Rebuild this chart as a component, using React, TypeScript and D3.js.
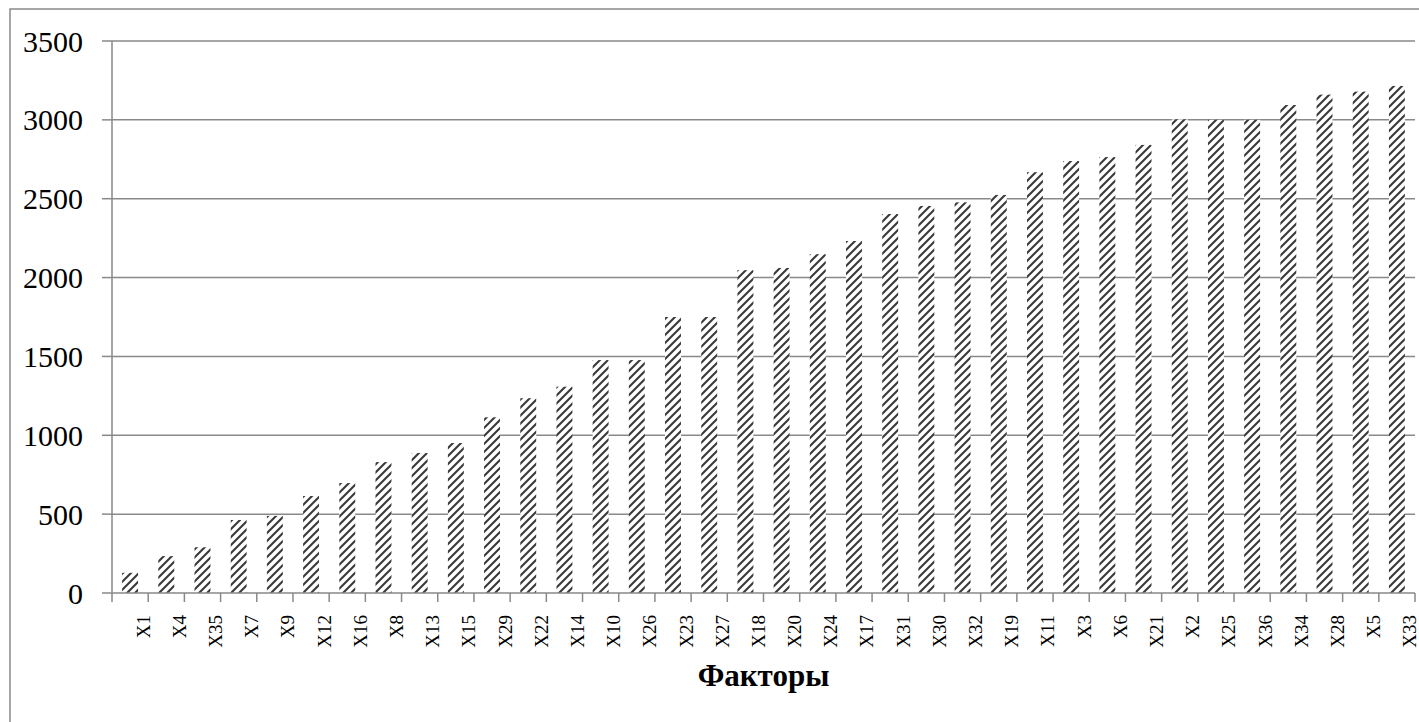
import * as d3 from 'd3';

const categories = [
  'X1', 'X4', 'X35', 'X7', 'X9', 'X12', 'X16', 'X8', 'X13', 'X15', 'X29', 'X22',
  'X14', 'X10', 'X26', 'X23', 'X27', 'X18', 'X20', 'X24', 'X17', 'X31', 'X30', 'X32',
  'X19', 'X11', 'X3', 'X6', 'X21', 'X2', 'X25', 'X36', 'X34', 'X28', 'X5', 'X33',
];
const values = [
  128, 234, 290, 463, 489, 615, 697, 830, 888, 951, 1114, 1235,
  1308, 1477, 1477, 1750, 1750, 2047, 2061, 2148, 2232, 2403, 2454, 2477,
  2524, 2668, 2739, 2764, 2841, 3003, 3000, 3000, 3094, 3160, 3179, 3215,
];
const yTicks = [0, 500, 1000, 1500, 2000, 2500, 3000, 3500];
const xTitle = 'Факторы';

const W = 1419;
const H = 722;
const left = 112;
const right = 1415;
const top = 41;
const bottom = 593;
const gray = '#898989';
const font = 'Liberation Serif';

export default function App() {
  const x = d3.scaleBand<string>()
    .domain(categories)
    .range([left, right])
    .paddingInner(0.56)
    .paddingOuter(0.28);
  const y = d3.scaleLinear().domain([0, 3500]).range([bottom, top]);
  const step = x.step();

  return (
    <svg
      width={W}
      height={H}
      style={{ position: 'absolute', left: 0, top: 0, background: '#fff' }}
    >
      <defs>
        <pattern id="hatch" patternUnits="userSpaceOnUse" width={8} height={8}>
          <rect width={8} height={8} fill="#fff" />
          <path
            d="M-2,2 l4,-4 M0,8 l8,-8 M6,10 l4,-4"
            stroke="#3a3a3a"
            strokeWidth={2.1}
          />
        </pattern>
      </defs>

      {/* outer chart border */}
      <rect x={10} y={9} width={W + 20} height={H + 20} fill="none" stroke={gray} strokeWidth={1.5} />

      {/* gridlines + y ticks */}
      {yTicks.map(t => (
        <g key={t}>
          {t > 0 && (
            <line x1={left} x2={right} y1={y(t)} y2={y(t)} stroke={gray} strokeWidth={1.5} />
          )}
          <line x1={left - 10} x2={left} y1={y(t)} y2={y(t)} stroke={gray} strokeWidth={1.5} />
          <text
            x={83}
            y={y(t)}
            textAnchor="end"
            dominantBaseline="central"
            style={{ fontFamily: font }}
            fontSize={30}
            fill="#000"
          >
            {t}
          </text>
        </g>
      ))}

      {/* bars */}
      {categories.map((c, i) => (
        <rect
          key={c}
          x={x(c)}
          y={y(values[i])}
          width={x.bandwidth()}
          height={bottom - y(values[i])}
          fill="url(#hatch)"
        />
      ))}

      {/* axes */}
      <line x1={left} x2={left} y1={top} y2={bottom} stroke={gray} strokeWidth={1.5} />
      <line x1={left} x2={right} y1={bottom} y2={bottom} stroke={gray} strokeWidth={1.5} />
      {d3.range(categories.length + 1).map(i => (
        <line
          key={i}
          x1={left + i * step}
          x2={left + i * step}
          y1={bottom}
          y2={bottom + 9}
          stroke={gray}
          strokeWidth={1.5}
        />
      ))}

      {/* category labels */}
      {categories.map(c => {
        const cx = (x(c) as number) + x.bandwidth() / 2 + 13;
        return (
          <text
            key={c}
            transform={`translate(${cx},615) rotate(-90)`}
            textAnchor="end"
            dominantBaseline="central"
            style={{ fontFamily: font }}
            fontSize={19}
            fill="#000"
          >
            {c}
          </text>
        );
      })}

      <text
        x={(left + right) / 2}
        y={686}
        textAnchor="middle"
        style={{ fontFamily: font }}
        fontSize={31}
        fontWeight="bold"
        fill="#000"
      >
        {xTitle}
      </text>
    </svg>
  );
}
